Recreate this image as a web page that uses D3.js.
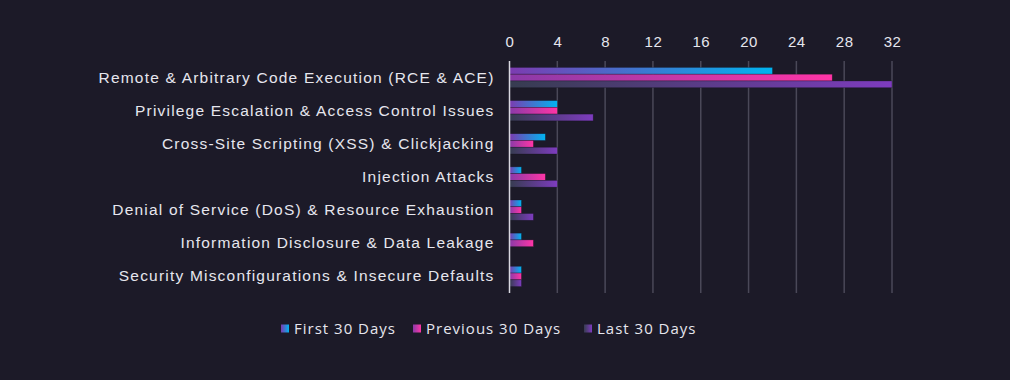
<!DOCTYPE html>
<html>
<head>
<meta charset="utf-8">
<script src="https://cdn.jsdelivr.net/npm/d3@7"></script>
<style>
  body { margin: 0; background: #1c1a28; }
  svg { display: block; font-family: 'Open Sans', sans-serif; }
</style>
</head>
<body>
<svg id="chart" width="1010" height="380"></svg>
<script>
const categories = [
  'Remote & Arbitrary Code Execution (RCE & ACE)',
  'Privilege Escalation & Access Control Issues',
  'Cross-Site Scripting (XSS) & Clickjacking',
  'Injection Attacks',
  'Denial of Service (DoS) & Resource Exhaustion',
  'Information Disclosure & Data Leakage',
  'Security Misconfigurations & Insecure Defaults'
];
const seriesNames = ['First 30 Days', 'Previous 30 Days', 'Last 30 Days'];
const first30 = [22, 4, 3, 1, 1, 1, 1];
const previous30 = [27, 4, 2, 3, 1, 2, 1];
const last30 = [32, 7, 4, 4, 2, 0, 1];
const tickValues = [0, 4, 8, 12, 16, 20, 24, 28, 32];

const seriesValues = [first30, previous30, last30];
const gradStops = [
  ['#7c3bb0', '#00b4f0'],
  ['#8a3aa8', '#ff35a6'],
  ['#363c50', '#7e3cbf']
];

const width = 1010, height = 380;
const margin = { top: 61, right: 118, bottom: 87, left: 509.5 };
const svg = d3.select('#chart');

const defs = svg.append('defs');
gradStops.forEach((s, i) => {
  const g = defs.append('linearGradient')
    .attr('id', 'grad' + i)
    .attr('x1', '0%').attr('x2', '100%').attr('y1', '0%').attr('y2', '0%');
  g.append('stop').attr('offset', '0%').attr('stop-color', s[0]);
  g.append('stop').attr('offset', '100%').attr('stop-color', s[1]);
});

const x = d3.scaleLinear()
  .domain([0, 32])
  .range([margin.left, 892]);

const y = d3.scaleBand()
  .domain(categories)
  .range([margin.top, height - margin.bottom]);

const inner = d3.scaleBand()
  .domain(d3.range(3))
  .range([0, y.bandwidth()])
  .paddingOuter(0.95)
  .paddingInner(0);

// grid
svg.append('g')
  .selectAll('line')
  .data(tickValues.slice(1))
  .enter()
  .append('line')
  .attr('x1', d => x(d))
  .attr('x2', d => x(d))
  .attr('y1', margin.top)
  .attr('y2', y.range()[1])
  .attr('stroke', '#4a4858')
  .attr('stroke-width', 1.5);

// top tick labels
const xAxis = svg.append('g')
  .attr('transform', `translate(0, ${margin.top - 14})`)
  .call(d3.axisTop(x).tickValues(tickValues).tickSize(0).tickPadding(0));
xAxis.select('.domain').remove();
xAxis.selectAll('text')
  .attr('fill', '#e6e6ee')
  .style('font-size', '15px')
  .style('letter-spacing', '0.5px');

// bars
const groups = svg.selectAll('.cat')
  .data(categories)
  .enter()
  .append('g')
  .attr('class', 'cat')
  .attr('transform', d => `translate(0, ${y(d)})`);

groups.each(function(cat, ci) {
  const g = d3.select(this);
  seriesValues.forEach((vals, si) => {
    if (vals[ci] <= 0) return;
    g.append('rect')
      .attr('x', x(0))
      .attr('y', inner(si))
      .attr('width', x(vals[ci]) - x(0))
      .attr('height', inner.bandwidth())
      .attr('fill', `url(#grad${si})`)
      .attr('stroke', 'rgba(20,18,30,0.5)')
      .attr('stroke-width', 0.6);
  });
});

// zero line
svg.append('line')
  .attr('x1', x(0)).attr('x2', x(0))
  .attr('y1', margin.top).attr('y2', y.range()[1])
  .attr('stroke', '#d8d8e0')
  .attr('stroke-width', 1.5);

// category labels
const yAxis = svg.append('g')
  .attr('transform', `translate(${x(0) - 15}, 0)`)
  .call(d3.axisLeft(y).tickSize(0).tickPadding(0));
yAxis.select('.domain').remove();
yAxis.selectAll('text')
  .attr('fill', '#e6e6ee')
  .style('font-size', '15.5px')
  .style('letter-spacing', '1.2px');

// legend
const legendX = [281, 413, 584];
const legend = svg.append('g').attr('transform', 'translate(0, 329)');
seriesNames.forEach((name, i) => {
  legend.append('rect')
    .attr('x', legendX[i])
    .attr('y', -4.5)
    .attr('width', 8)
    .attr('height', 8)
    .attr('fill', `url(#grad${i})`);
  legend.append('text')
    .attr('x', legendX[i] + 13)
    .attr('y', 0)
    .attr('dy', '0.35em')
    .attr('fill', '#e6e6ee')
    .style('font-size', '15px')
    .style('letter-spacing', '1px')
    .text(name);
});
</script>
</body>
</html>
